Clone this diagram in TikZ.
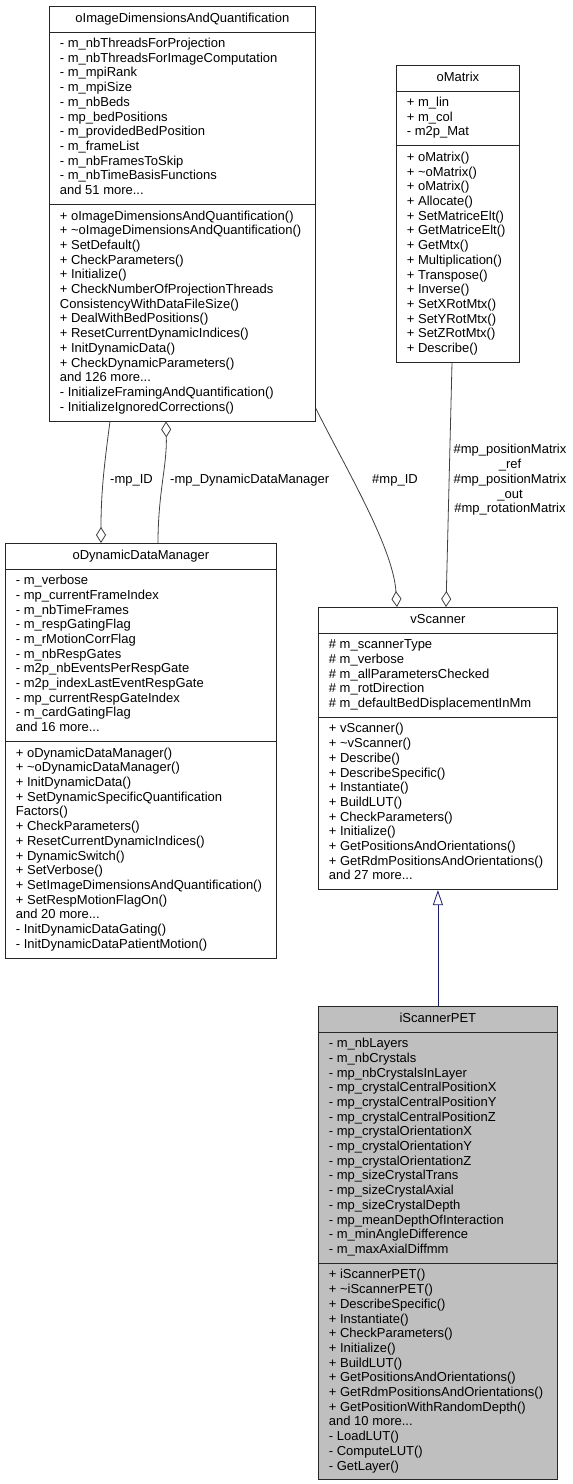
\documentclass[tikz,border=0pt]{standalone}
\usepackage{fontspec}
\setmainfont{Liberation Sans}
\usepackage{xcolor}
\usepackage{tikz}
\usetikzlibrary{positioning, arrows.meta, shapes.multipart}
\definecolor{classgray}{HTML}{BFBFBF}
\definecolor{edgegray}{HTML}{404040}
\definecolor{inheritblue}{HTML}{191970}
\newcommand{\classfont}{\fontsize{13}{14.7}\selectfont}

\begin{document}
\begin{tikzpicture}[x=1pt, y=-1pt,
    umlclass/.style={draw=black!85, line width=0.8pt, fill=white,
      rectangle split, rectangle split parts=3,
      rectangle split part align={center,left,left}, align=left,
      font=\classfont, inner xsep=10.5pt, inner ysep=5pt, anchor=north west},
    aggr/.style={draw=edgegray, line width=0.8pt,
      -{Diamond[open, length=16pt, width=10pt]}},
    inherit/.style={draw=inheritblue, line width=0.8pt,
      -{Triangle[open, length=15pt, width=10pt]}},
    edgelabel/.style={font=\classfont, inner sep=0pt, align=center}]

  \path[fill=white, use as bounding box] (0,0) rectangle (573,1484);

  \node[umlclass, minimum width=266pt] (imgdim) at (49,6) {%
    \strut oImageDimensionsAndQuantification\strut
    \nodepart{two}
    \strut - m\_nbThreadsForProjection\\
    - m\_nbThreadsForImageComputation\\
    - m\_mpiRank\\
    - m\_mpiSize\\
    - m\_nbBeds\\
    - mp\_bedPositions\\
    - m\_providedBedPosition\\
    - m\_frameList\\
    - m\_nbFramesToSkip\\
    - m\_nbTimeBasisFunctions\\
    and 51 more...\strut
    \nodepart{three}
    \strut + oImageDimensionsAndQuantification()\\
    + \textasciitilde oImageDimensionsAndQuantification()\\
    + SetDefault()\\
    + CheckParameters()\\
    + Initialize()\\
    + CheckNumberOfProjectionThreads\\
    ConsistencyWithDataFileSize()\\
    + DealWithBedPositions()\\
    + ResetCurrentDynamicIndices()\\
    + InitDynamicData()\\
    + CheckDynamicParameters()\\
    and 126 more...\\
    - InitializeFramingAndQuantification()\\
    - InitializeIgnoredCorrections()\strut};

  \node[umlclass, minimum width=123pt] (omatrix) at (396,65) {%
    \strut oMatrix\strut
    \nodepart{two}
    \strut + m\_lin\\
    + m\_col\\
    - m2p\_Mat\strut
    \nodepart{three}
    \strut + oMatrix()\\
    + \textasciitilde oMatrix()\\
    + oMatrix()\\
    + Allocate()\\
    + SetMatriceElt()\\
    + GetMatriceElt()\\
    + GetMtx()\\
    + Multiplication()\\
    + Transpose()\\
    + Inverse()\\
    + SetXRotMtx()\\
    + SetYRotMtx()\\
    + SetZRotMtx()\\
    + Describe()\strut};

  \node[umlclass, minimum width=271pt] (oddm) at (5,543) {%
    \strut oDynamicDataManager\strut
    \nodepart{two}
    \strut - m\_verbose\\
    - mp\_currentFrameIndex\\
    - m\_nbTimeFrames\\
    - m\_respGatingFlag\\
    - m\_rMotionCorrFlag\\
    - m\_nbRespGates\\
    - m2p\_nbEventsPerRespGate\\
    - m2p\_indexLastEventRespGate\\
    - mp\_currentRespGateIndex\\
    - m\_cardGatingFlag\\
    and 16 more...\strut
    \nodepart{three}
    \strut + oDynamicDataManager()\\
    + \textasciitilde oDynamicDataManager()\\
    + InitDynamicData()\\
    + SetDynamicSpecificQuantification\\
    Factors()\\
    + CheckParameters()\\
    + ResetCurrentDynamicIndices()\\
    + DynamicSwitch()\\
    + SetVerbose()\\
    + SetImageDimensionsAndQuantification()\\
    + SetRespMotionFlagOn()\\
    and 20 more...\\
    - InitDynamicDataGating()\\
    - InitDynamicDataPatientMotion()\strut};

  \node[umlclass, minimum width=239pt] (vscanner) at (318,607) {%
    \strut vScanner\strut
    \nodepart{two}
    \strut \# m\_scannerType\\
    \# m\_verbose\\
    \# m\_allParametersChecked\\
    \# m\_rotDirection\\
    \# m\_defaultBedDisplacementInMm\strut
    \nodepart{three}
    \strut + vScanner()\\
    + \textasciitilde vScanner()\\
    + Describe()\\
    + DescribeSpecific()\\
    + Instantiate()\\
    + BuildLUT()\\
    + CheckParameters()\\
    + Initialize()\\
    + GetPositionsAndOrientations()\\
    + GetRdmPositionsAndOrientations()\\
    and 27 more...\strut};

  \node[umlclass, minimum width=239pt, fill=classgray] (iscanner) at (318,1006) {%
    \strut iScannerPET\strut
    \nodepart{two}
    \strut - m\_nbLayers\\
    - m\_nbCrystals\\
    - mp\_nbCrystalsInLayer\\
    - mp\_crystalCentralPositionX\\
    - mp\_crystalCentralPositionY\\
    - mp\_crystalCentralPositionZ\\
    - mp\_crystalOrientationX\\
    - mp\_crystalOrientationY\\
    - mp\_crystalOrientationZ\\
    - mp\_sizeCrystalTrans\\
    - mp\_sizeCrystalAxial\\
    - mp\_sizeCrystalDepth\\
    - mp\_meanDepthOfInteraction\\
    - m\_minAngleDifference\\
    - m\_maxAxialDiffmm\strut
    \nodepart{three}
    \strut + iScannerPET()\\
    + \textasciitilde iScannerPET()\\
    + DescribeSpecific()\\
    + Instantiate()\\
    + CheckParameters()\\
    + Initialize()\\
    + BuildLUT()\\
    + GetPositionsAndOrientations()\\
    + GetRdmPositionsAndOrientations()\\
    + GetPositionWithRandomDepth()\\
    and 10 more...\\
    - LoadLUT()\\
    - ComputeLUT()\\
    - GetLayer()\strut};

  % aggregations
  \draw[aggr] ([xshift=61pt]imgdim.south west) .. controls +(-6,45) and +(0,-50) .. ([xshift=96pt]oddm.north west);
  \draw[aggr] ([xshift=153pt]oddm.north west) .. controls +(0,-50) and +(1,45) .. ([xshift=117pt]imgdim.south west);
  \draw[aggr] ([yshift=13pt]imgdim.south east) .. controls +(30,60) and +(-4,-60) .. ([xshift=79pt]vscanner.north west);
  \draw[aggr] ([xshift=56pt]omatrix.south west) -- ([xshift=128pt]vscanner.north west);

  % inheritance
  \draw[inherit] (iscanner.north) -- (vscanner.south);

  \node[edgelabel, anchor=west] (lblid) at (110,480) {-mp\_ID};
  \node[edgelabel, anchor=west] (lbldyn) at (170,480) {-mp\_DynamicDataManager};
  \node[edgelabel] (lblscanid) at (395,480) {\#mp\_ID};
  \node[edgelabel] (lblmtx) at (510,480) {\#mp\_positionMatrix\\\_ref\\\#mp\_positionMatrix\\\_out\\\#mp\_rotationMatrix};
\end{tikzpicture}
\end{document}
